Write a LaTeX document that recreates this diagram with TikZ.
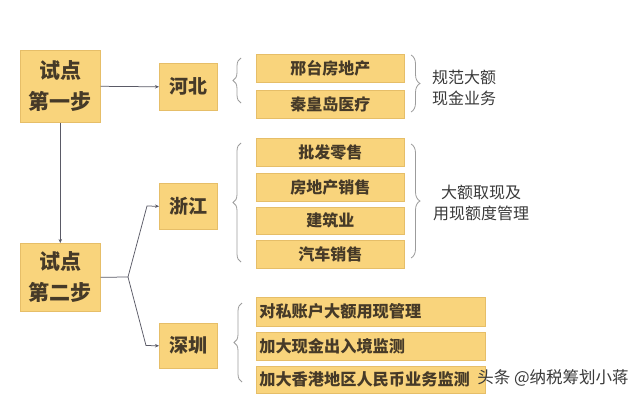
\documentclass[tikz,border=0pt]{standalone}
\usepackage{fontspec}
\setmainfont{Noto Sans CJK SC}
\usetikzlibrary{decorations.pathreplacing,arrows.meta}
\definecolor{boxfill}{HTML}{F9D47C}
\definecolor{boxline}{HTML}{E6BE68}
\definecolor{txt}{HTML}{463A28}
\definecolor{lnk}{HTML}{5A5A66}
\definecolor{brc}{HTML}{9C9C9C}
\definecolor{anntxt}{HTML}{3A3A3A}
\begin{document}
\begin{tikzpicture}[x=1pt,y=-1pt,
  box/.style={draw=boxline,line width=0.6pt,fill=boxfill,anchor=north west,inner sep=0pt,text=txt,font=\bfseries},
  bigbox/.style={box,minimum width=80pt,align=center,font=\bfseries\fontsize{21}{31}\selectfont},
  citybox/.style={box,minimum width=58pt,font=\bfseries\fontsize{19}{22}\selectfont},
  itembox/.style={box,minimum width=148pt,font=\bfseries\fontsize{16}{19}\selectfont},
  longbox/.style={box,minimum width=229pt,text width=223pt,inner xsep=3pt,align=left,font=\bfseries\fontsize{16.2}{19}\selectfont},
  arr/.style={draw=lnk,line width=0.75pt,-{Stealth[length=4pt,width=3.5pt]}},
  lnkline/.style={draw=lnk,line width=0.75pt},
  brace/.style={draw=brc,line width=0.8pt,decorate,decoration={brace,amplitude=#1}},
  ann/.style={text=anntxt,align=center,font=\fontsize{16}{21}\selectfont}
]
\useasboundingbox[fill=white] (0,0) rectangle (640,407);

% main step boxes
\node[bigbox,minimum height=72pt] (step1) at (20,50) {试点\\第一步};
\node[bigbox,minimum height=68pt] (step2) at (20,243) {试点\\第二步};

% city boxes
\node[citybox,minimum height=47pt] (hebei) at (159,63) {河北};
\node[citybox,minimum height=46pt] (zhejiang) at (159,183) {浙江};
\node[citybox,minimum height=45pt] (shenzhen) at (159,323) {深圳};

% Hebei items
\node[itembox,minimum height=28pt] (h1) at (256,54) {邢台房地产};
\node[itembox,minimum height=28pt] (h2) at (256,90) {秦皇岛医疗};

% Zhejiang items
\node[itembox,minimum height=28pt] (z1) at (256,138) {批发零售};
\node[itembox,minimum height=28pt] (z2) at (256,173) {房地产销售};
\node[itembox,minimum height=27pt] (z3) at (256,207) {建筑业};
\node[itembox,minimum height=28pt] (z4) at (256,240) {汽车销售};

% Shenzhen items
\node[longbox,minimum height=29pt] (s1) at (256,297) {对私账户大额用现管理};
\node[longbox,minimum height=28pt] (s2) at (256,332) {加大现金出入境监测};
\node[longbox,minimum height=27pt] (s3) at (256,366) {加大香港地区人民币业务监测};

% annotations
\node[ann] (a1) at (464,88) {规范大额\\现金业务};
\node[ann] (a2) at (481,203) {大额取现及\\用现额度管理};

% connectors
\draw[arr] (step1.east) -- (hebei.west);
\draw[arr] (step1.south) -- (step2.north);
\coordinate (br) at (128,277);
\coordinate (bu) at (147,206);
\coordinate (bd) at (146,345.5);
\draw[lnkline] (step2.east) -- (br);
\draw[arr] (br) -- (bu) -- (zhejiang.west);
\draw[arr] (br) -- (bd) -- (shenzhen.west);

% braces
\coordinate (hlb) at (241,103); \coordinate (hlt) at (241,58);
\draw[brace=8pt] (hlb) -- (hlt);
\coordinate (hrt) at (411,55); \coordinate (hrb) at (411,112);
\draw[brace=9pt] (hrt) -- (hrb);
\coordinate (zlb) at (241,262); \coordinate (zlt) at (241,143);
\draw[brace=8pt] (zlb) -- (zlt);
\coordinate (zrt) at (411,144); \coordinate (zrb) at (411,258);
\draw[brace=9pt] (zrt) -- (zrb);
\coordinate (slb) at (242,382); \coordinate (slt) at (242,303);
\draw[brace=8pt] (slb) -- (slt);

% source mark
\node[text=anntxt,font=\fontsize{16.5}{18}\selectfont] (wm) at (553,378) {头条 @纳税筹划小蒋};
\end{tikzpicture}
\end{document}
